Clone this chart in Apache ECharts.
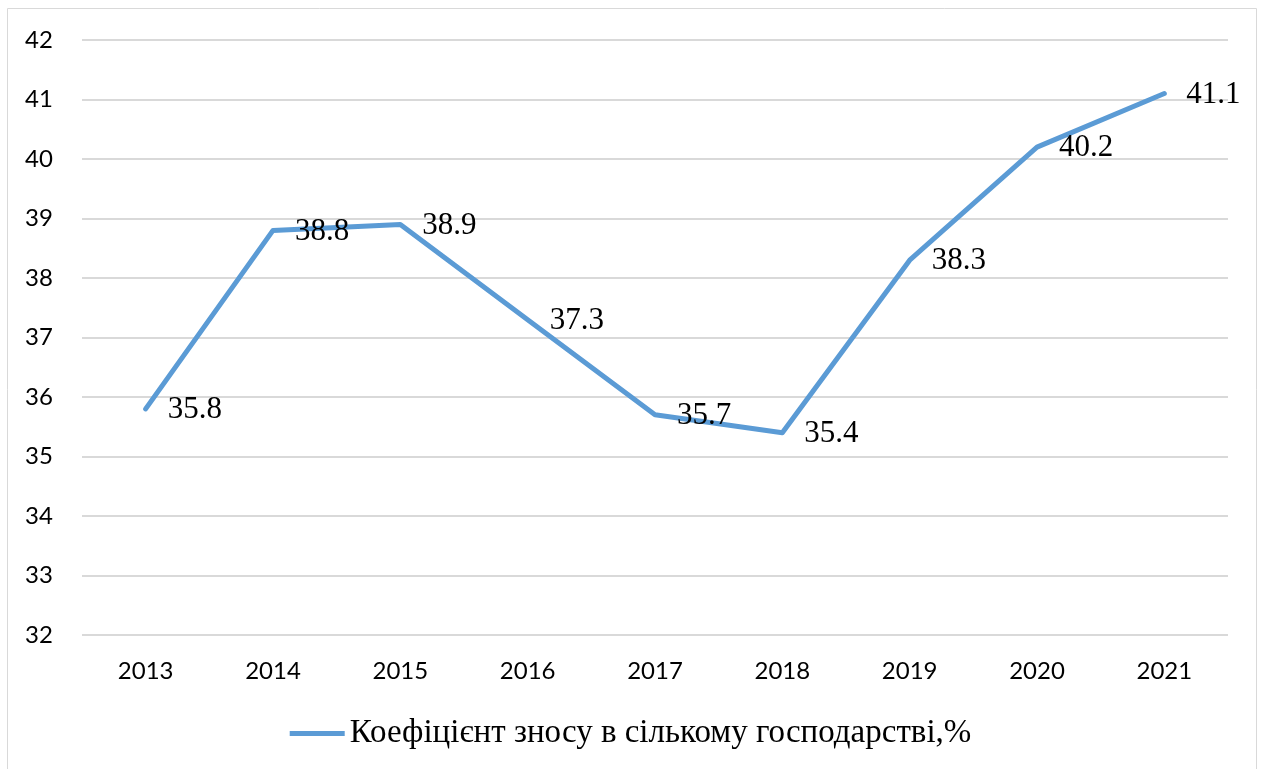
<!DOCTYPE html>
<html><head><meta charset="utf-8">
<script src="https://cdn.jsdelivr.net/npm/echarts@6/dist/echarts.min.js"></script>
<style>html,body{margin:0;padding:0;background:#fff}#c{width:1261px;height:769px}</style>
</head><body><div id="c"></div>
<script>
const categories = ['2013','2014','2015','2016','2017','2018','2019','2020','2021'];
const values = [35.8, 38.8, 38.9, 37.3, 35.7, 35.4, 38.3, 40.2, 41.1];
const seriesName = 'Коефіцієнт зносу в сількому господарстві,%';
const chart = echarts.init(document.getElementById('c'));
chart.setOption({
  animation: false,
  graphic: [{type:'rect', shape:{x:7.5,y:8.5,width:1249,height:770}, style:{fill:'none', stroke:'#d9d9d9', lineWidth:1}}],
  grid: {left:82, right:33, top:40, bottom:134},
  legend: {bottom:14, left:'center', itemWidth:55, itemHeight:5, itemGap:2,
    textStyle:{fontFamily:'Liberation Serif', fontSize:33, color:'#000'},
    data:[{name:seriesName, icon:'path://M0,0 L55,0 L55,5 L0,5 Z', itemStyle:{color:'#5b9bd5', opacity:1}}]},
  xAxis: {type:'category', data:categories, boundaryGap:true,
    axisLine:{show:false}, axisTick:{show:false},
    axisLabel:{fontFamily:'Lato', fontSize:24, color:'#000', margin:24}},
  yAxis: {type:'value', min:32, max:42, interval:1,
    axisLine:{show:false}, axisTick:{show:false},
    axisLabel:{fontFamily:'Lato', fontSize:24, color:'#000', margin:57, align:'left'},
    splitLine:{lineStyle:{color:'#d9d9d9', width:2}}},
  series: [{name:seriesName, type:'line', data:values, showSymbol:true, symbol:'circle', symbolSize:2,
    lineStyle:{color:'#5b9bd5', width:5, cap:'round', join:'round'},
    itemStyle:{color:'#5b9bd5'},
    label:{show:true, position:'right', distance:21, offset:[0,1], fontFamily:'Liberation Serif', fontSize:31, color:'#000'}}]
});
</script></body></html>
